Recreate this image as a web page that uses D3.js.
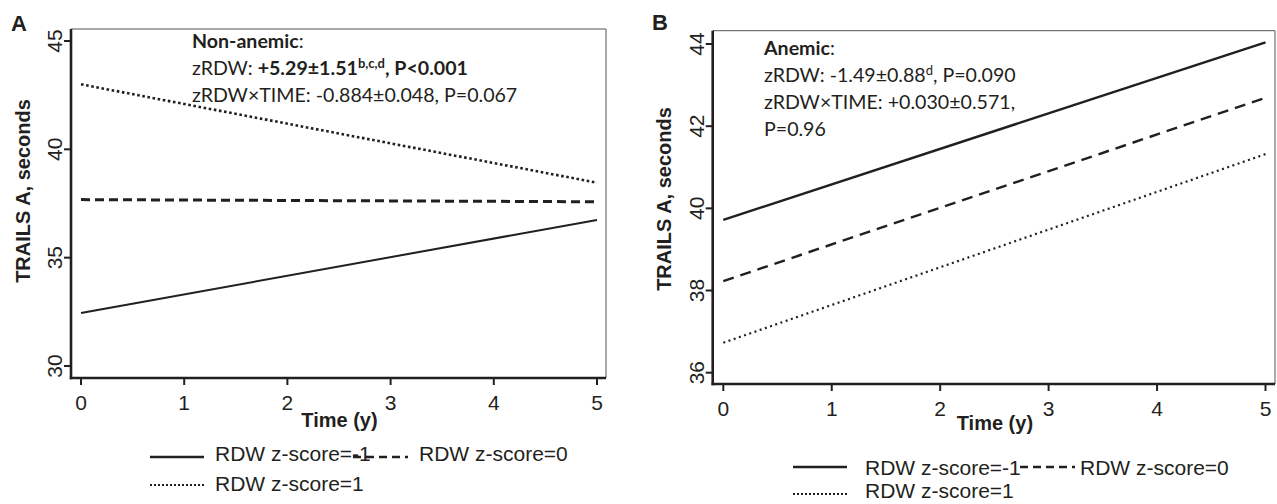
<!DOCTYPE html>
<html>
<head>
<meta charset="utf-8">
<script src="https://cdn.jsdelivr.net/npm/d3@7"></script>
<style>
  body { margin: 0; background: #fff; }
  svg { display: block; }
  text { fill: #231f20; }
  .tick-lbl { font-family: "Liberation Sans", Arial, sans-serif; font-size: 21px; }
  .ax-title { font-family: "Liberation Sans", Arial, sans-serif; font-size: 20px; font-weight: bold; }
  .note { font-family: Lato, "Open Sans", sans-serif; font-size: 19.6px; }
  .leg { font-family: "Liberation Sans", Arial, sans-serif; font-size: 21px; }
  .panel-lbl { font-family: "Liberation Sans", Arial, sans-serif; font-size: 22px; font-weight: bold; }
</style>
</head>
<body>
<div id="chart"></div>
<script>
// years of follow-up
const times = [0, 5];
const xTicks = [0, 1, 2, 3, 4, 5];

// panel A, non-anemic
const nonAnemicZm1 = [32.45, 36.74];
const nonAnemicZ0 = [37.68, 37.58];
const nonAnemicZ1 = [43.0, 38.46];
const yTicksA = [30, 35, 40, 45];

// panel B, anemic
const anemicZm1 = [39.72, 44.04];
const anemicZ0 = [38.23, 42.69];
const anemicZ1 = [36.73, 41.32];
const yTicksB = [36, 38, 40, 42, 44];

const legendLabels = ["RDW z-score=-1", "RDW z-score=0", "RDW z-score=1"];

const W = 1277, H = 504;
const svg = d3.select("#chart").append("svg").attr("width", W).attr("height", H);

const panels = [
  {
    letter: "A", letterX: 11, letterY: 31,
    box: { left: 71, right: 606, top: 29, bottom: 378 },
    xRange: [81, 597], yDomain: [30, 45], yRange: [366, 41], yTicks: yTicksA,
    yLabelX: 30, yLabelY: 191, xTitleY: 427, xTickY: 410,
    series: [
      { vals: nonAnemicZm1, width: 2, dash: null },
      { vals: nonAnemicZ0, width: 3, dash: "9,5" },
      { vals: nonAnemicZ1, width: 2.6, dash: "2.6,2.6" }
    ],
    noteX: 192, noteY: 48,
    legend: { x: 150, y1: 457, y2: 485, text1: 461, text2: 491, dashX: 353, text0X: 215, text2X: 419 },
    legendStyles: [{ width: 2.5, dash: null }, { width: 2.5, dash: "8,5" }, { width: 2, dash: "2,2" }]
  },
  {
    letter: "B", letterX: 652, letterY: 30,
    box: { left: 712.7, right: 1275, top: 30.7, bottom: 384 },
    xRange: [723.3, 1265.5], yDomain: [36, 44], yRange: [372.7, 44], yTicks: yTicksB,
    yLabelX: 671, yLabelY: 199, xTitleY: 430, xTickY: 416,
    series: [
      { vals: anemicZm1, width: 2.4, dash: null },
      { vals: anemicZ0, width: 2.4, dash: "11,7" },
      { vals: anemicZ1, width: 2.2, dash: "2,3.5" }
    ],
    noteX: 764, noteY: 55,
    legend: { x: 793, y1: 467, y2: 494, text1: 475, text2: 498, dashX: 1020, text0X: 865, text2X: 1080 },
    legendStyles: [{ width: 2.5, dash: null }, { width: 2.5, dash: "8,5" }, { width: 2, dash: "2,2" }]
  }
];

panels.forEach(p => {
  const g = svg.append("g");
  const x = d3.scaleLinear().domain([0, 5]).range(p.xRange);
  const y = d3.scaleLinear().domain(p.yDomain).range(p.yRange);
  const b = p.box;

  // thin frame top/right
  g.append("path")
    .attr("d", `M${b.left},${b.top}H${b.right}V${b.bottom}`)
    .attr("fill", "none").attr("stroke", "#555").attr("stroke-width", 1);

  // heavy left and bottom axes
  g.append("line").attr("x1", b.left).attr("x2", b.left).attr("y1", b.top).attr("y2", b.bottom + 1.2)
    .attr("stroke", "#231f20").attr("stroke-width", 2.6);
  g.append("line").attr("x1", b.left - 1.2).attr("x2", b.right).attr("y1", b.bottom).attr("y2", b.bottom)
    .attr("stroke", "#231f20").attr("stroke-width", 2.6);

  // y ticks
  p.yTicks.forEach(t => {
    g.append("line").attr("x1", b.left - 7).attr("x2", b.left).attr("y1", y(t)).attr("y2", y(t))
      .attr("stroke", "#231f20").attr("stroke-width", 2);
    g.append("text").attr("class", "tick-lbl")
      .attr("transform", `translate(${b.left - 9},${y(t)}) rotate(-90)`)
      .attr("text-anchor", "middle").text(t);
  });

  // x ticks
  xTicks.forEach(t => {
    g.append("line").attr("x1", x(t)).attr("x2", x(t)).attr("y1", b.bottom).attr("y2", b.bottom + 7)
      .attr("stroke", "#231f20").attr("stroke-width", 2);
    g.append("text").attr("class", "tick-lbl")
      .attr("x", x(t)).attr("y", p.xTickY).attr("text-anchor", "middle").text(t);
  });

  g.append("text").attr("class", "ax-title")
    .attr("x", (p.xRange[0] + p.xRange[1]) / 2 + 0.5).attr("y", p.xTitleY)
    .attr("text-anchor", "middle").text("Time (y)");

  g.append("text").attr("class", "ax-title")
    .attr("transform", `translate(${p.yLabelX},${p.yLabelY}) rotate(-90)`)
    .attr("text-anchor", "middle").text("TRAILS A, seconds");

  g.append("text").attr("class", "panel-lbl").attr("x", p.letterX).attr("y", p.letterY).text(p.letter);

  // model lines
  const line = d3.line().x((d, i) => x(times[i])).y(d => y(d));
  p.series.forEach(s => {
    g.append("path").datum(s.vals)
      .attr("d", line)
      .attr("fill", "none").attr("stroke", "#231f20")
      .attr("stroke-width", s.width)
      .attr("stroke-dasharray", s.dash);
  });

  // legend
  const L = p.legend;
  const legRows = [
    { lx: L.x, ly: L.y1, tx: L.text0X, ty: L.text1 },
    { lx: L.dashX, ly: L.y1, tx: L.text2X, ty: L.text1 },
    { lx: L.x, ly: L.y2, tx: L.text0X, ty: L.text2 }
  ];
  legRows.forEach((r, i) => {
    const st = p.legendStyles[i];
    g.append("line").attr("x1", r.lx).attr("x2", r.lx + (i === 1 ? 55 : 54))
      .attr("y1", r.ly).attr("y2", r.ly)
      .attr("stroke", "#231f20").attr("stroke-width", st.width)
      .attr("stroke-dasharray", st.dash);
    g.append("text").attr("class", "leg").attr("x", r.tx).attr("y", r.ty).text(legendLabels[i]);
  });
});

// annotation text, panel A
const noteA = svg.append("text").attr("class", "note").attr("x", panels[0].noteX).attr("y", panels[0].noteY);
noteA.append("tspan").attr("font-weight", "bold").text("Non-anemic");
noteA.append("tspan").text(":");
const noteA2 = svg.append("text").attr("class", "note").attr("x", panels[0].noteX).attr("y", panels[0].noteY + 27);
noteA2.append("tspan").text("zRDW: ");
noteA2.append("tspan").attr("font-weight", "bold").text("+5.29\u00b11.51");
noteA2.append("tspan").attr("font-weight", "bold").attr("font-size", "13px").attr("dy", -7).text("b,c,d");
noteA2.append("tspan").attr("font-weight", "bold").attr("dy", 7).text(", P<0.001");
svg.append("text").attr("class", "note").attr("x", panels[0].noteX).attr("y", panels[0].noteY + 54)
  .text("zRDW\u00d7TIME: -0.884\u00b10.048, P=0.067");

// annotation text, panel B
const noteB = svg.append("text").attr("class", "note").attr("x", panels[1].noteX).attr("y", panels[1].noteY);
noteB.append("tspan").attr("font-weight", "bold").text("Anemic");
noteB.append("tspan").text(":");
const noteB2 = svg.append("text").attr("class", "note").attr("x", panels[1].noteX).attr("y", panels[1].noteY + 27);
noteB2.append("tspan").text("zRDW: -1.49\u00b10.88");
noteB2.append("tspan").attr("font-size", "13px").attr("dy", -7).text("d");
noteB2.append("tspan").attr("dy", 7).text(", P=0.090");
svg.append("text").attr("class", "note").attr("x", panels[1].noteX).attr("y", panels[1].noteY + 54)
  .text("zRDW\u00d7TIME: +0.030\u00b10.571,");
svg.append("text").attr("class", "note").attr("x", panels[1].noteX).attr("y", panels[1].noteY + 81)
  .text("P=0.96");
</script>
</body>
</html>
